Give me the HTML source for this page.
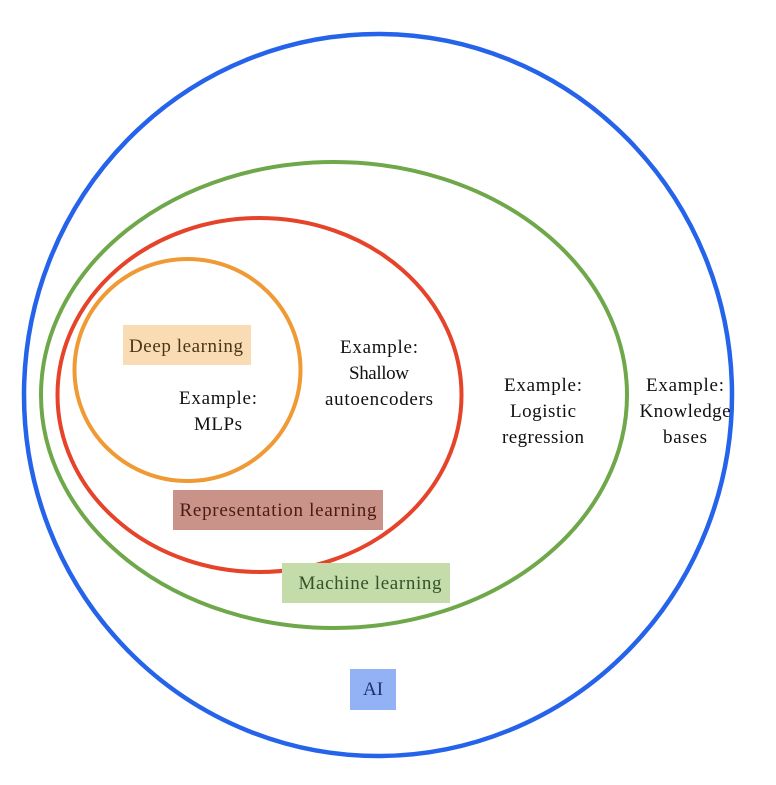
<!DOCTYPE html>
<html><head><meta charset="utf-8"><style>
html,body{margin:0;padding:0;background:#fff;}
svg text{font-family:"Liberation Serif",serif;font-size:19px;fill:#111;text-anchor:middle;}
</style></head><body>
<svg width="776" height="780" viewBox="0 0 776 780" xmlns="http://www.w3.org/2000/svg">
<ellipse cx="378" cy="395" rx="354" ry="361" fill="none" stroke="#2563eb" stroke-width="4.5"/>
<ellipse cx="334" cy="395" rx="293" ry="233" fill="none" stroke="#6fa84a" stroke-width="4"/>
<ellipse cx="259.5" cy="395" rx="202" ry="177" fill="none" stroke="#e5432a" stroke-width="4"/>
<ellipse cx="187.5" cy="370" rx="113" ry="111" fill="none" stroke="#ef9a35" stroke-width="4"/>
<rect x="123" y="325" width="128" height="40" fill="#f9dcb4"/>
<text x="186" y="352" textLength="114" style="fill:#4a3518">Deep learning</text>
<rect x="173" y="490" width="210" height="40" fill="#c9938a"/>
<text x="278" y="516" textLength="197" style="fill:#4a1a14">Representation learning</text>
<rect x="282" y="563" width="168" height="40" fill="#c3dca9"/>
<text x="370" y="589" textLength="143" style="fill:#35522a">Machine learning</text>
<rect x="350" y="669" width="46" height="41" fill="#93b2f5"/>
<text x="373" y="695" style="fill:#1e2f6a">AI</text>
<text x="218" y="404" textLength="78">Example:</text>
<text x="218" y="430" textLength="48">MLPs</text>
<text x="379" y="353" textLength="78">Example:</text>
<text x="379" y="379" textLength="60">Shallow</text>
<text x="379" y="405" textLength="108">autoencoders</text>
<text x="543" y="391" textLength="78">Example:</text>
<text x="543" y="417" textLength="66">Logistic</text>
<text x="543" y="443" textLength="82">regression</text>
<text x="685" y="391" textLength="78">Example:</text>
<text x="685" y="417" textLength="91">Knowledge</text>
<text x="685" y="443" textLength="44">bases</text>
</svg>
</body></html>
